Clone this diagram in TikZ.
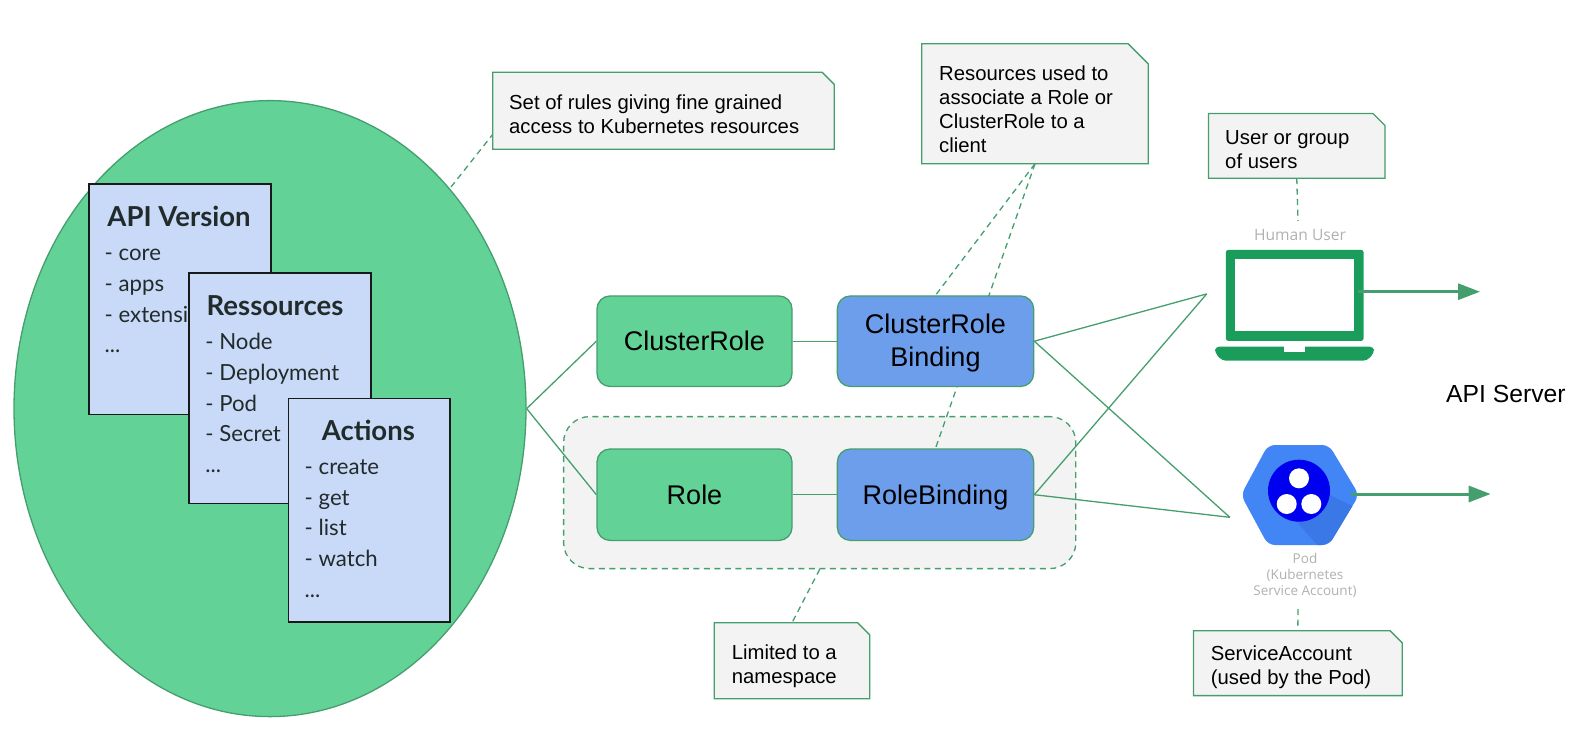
\documentclass[tikz,border=0pt]{standalone}
\usepackage{fontspec}
\setmainfont{Liberation Sans}
\newfontfamily\latofont{Lato}
\newfontfamily\opensansfont{Open Sans}
\usetikzlibrary{shapes.geometric,arrows.meta,calc}
\definecolor{edgegreen}{HTML}{459E6E}
\definecolor{fillgreen}{HTML}{63D297}
\definecolor{boxblue}{HTML}{6D9EEB}
\definecolor{paleblue}{HTML}{C9DAF8}
\definecolor{notegray}{HTML}{F3F3F3}
\definecolor{laptopgreen}{HTML}{1A9C5B}
\definecolor{hexblue}{HTML}{4285F4}
\definecolor{hexdark}{HTML}{3B78E7}
\definecolor{podblue}{HTML}{0000F0}
\definecolor{icontext}{HTML}{B0B0B0}
\definecolor{inktext}{HTML}{222B2B}
\pgfdeclarelayer{panel}
\pgfdeclarelayer{conn}
\pgfsetlayers{panel,conn,main}
\tikzset{
  x=1pt,y=-1pt,
  greenbox/.style={draw=edgegreen,line width=1.3pt,rounded corners=13pt,inner sep=0pt,align=center,
    font=\fontsize{27}{33}\selectfont},
  oneline/.style={text height=19.5pt,text depth=0pt},
  cardbox/.style={draw=black!90,line width=1.5pt,fill=paleblue,inner sep=0pt,anchor=north west},
  cardtitle/.style={anchor=base,inner sep=0pt,text=inktext,font=\latofont\bfseries\fontsize{27.5}{29}\selectfont},
  cardlist/.style={anchor=base west,inner sep=0pt,align=left,text=inktext,font=\latofont\fontsize{22.2}{30.6}\selectfont},
  link/.style={draw=edgegreen,line width=1.3pt},
  dashlink/.style={draw=edgegreen,line width=1.3pt,dash pattern=on 6pt off 4.5pt},
  notetext/.style={anchor=base west,inner sep=0pt,align=left,font=\fontsize{20.3}{24}\selectfont},
  icontxt/.style={inner sep=0pt,align=center,text=icontext,font=\opensansfont\fontsize{13.5}{16.2}\selectfont},
  flow/.style={draw=edgegreen,line width=3pt,-{Triangle[length=22pt,width=16pt]}}
}
% #1 name, #2 x1, #3 y1, #4 x2, #5 y2, #6 chamfer, #7 text x, #8 baseline of the last text line, #9 text
\newcommand{\notebox}[9]{%
  \node[inner sep=0pt,minimum width={#4-#2},minimum height={#5-#3}] (#1) at ({(#2+#4)/2},{(#3+#5)/2}) {};
  \fill[notegray,draw=edgegreen,line width=1.3pt] (#1.north west) -- ([xshift=-#6pt]#1.north east)
     -- ([yshift=-#6pt]#1.north east) -- (#1.south east) -- (#1.south west) -- cycle;
  \node[notetext] (#1t) at (#7,#8) {#9};
}
\begin{document}
\begin{tikzpicture}
\useasboundingbox (0,0) rectangle (1578,750);
% main ellipse
\node[ellipse,draw=edgegreen,line width=1.3pt,fill=fillgreen,inner sep=0pt,minimum width=512pt,minimum height=616pt] (rules) at (270,408.6) {};
% cards
\node[cardbox,minimum width=182pt,minimum height=230.4pt] (apicard) at (88.3,183.3) {};
\node[cardtitle] (apititle) at (179,226.5) {API Version};
\node[cardlist] (apilist) at (104.5,352.6) {- core\\- apps\\- extensions\\...};
\node[cardbox,minimum width=182pt,minimum height=230.4pt] (rescard) at (188.3,272.3) {};
\node[cardtitle] (restitle) at (275,315.8) {Ressources};
\node[cardlist] (reslist) at (205.2,472.2) {- Node\\- Deployment\\- Pod\\- Secret\\...};
\node[cardbox,minimum width=161.3pt,minimum height=223.3pt] (actcard) at (287.7,397.7) {};
\node[cardtitle] (acttitle) at (368.3,440.3) {Actions};
\node[cardlist] (actlist) at (304.5,597) {- create\\- get\\- list\\- watch\\...};
% role boxes
\node[greenbox,oneline,fill=fillgreen,minimum width=195pt,minimum height=90.5pt] (cr) at (694.5,341.2) {ClusterRole};
\node[greenbox,fill=boxblue,minimum width=196.3pt,minimum height=90.5pt] (crb) at (935.5,341.2) {\rule{0pt}{23pt}ClusterRole\\Binding};
\node[greenbox,oneline,fill=fillgreen,minimum width=195pt,minimum height=91.4pt] (role) at (694.5,494.7) {Role};
\node[greenbox,oneline,fill=boxblue,minimum width=196.3pt,minimum height=91.4pt] (rb) at (935.5,494.7) {RoleBinding};
% notes
\notebox{noteA}{493}{72.5}{834}{149}{12}{509}{133}{Set of rules giving fine grained\\access to Kubernetes resources}
\notebox{noteB}{922}{44}{1148}{163.5}{20}{939}{152.7}{Resources used to\\associate a Role or\\ClusterRole to a\\client}
\notebox{noteC}{1208.7}{113.7}{1384.8}{178}{12}{1225}{168}{User or group\\of users}
\notebox{noteD}{714.5}{623}{869.5}{698.5}{12}{731.6}{683}{Limited to a\\namespace}
\notebox{noteE}{1193.6}{631}{1402}{695.4}{12}{1210.7}{684}{ServiceAccount\\(used by the Pod)}
% laptop
\node[inner sep=0pt,minimum width=137.3pt,minimum height=90.7pt] (laptop) at (1294.7,295.4) {};
\fill[laptopgreen,rounded corners=2.5pt] (laptop.north west) rectangle (laptop.south east);
\fill[white] (1235,259.3) rectangle (1354.3,331.3);
\fill[laptopgreen,rounded corners=4pt] (1215,346.7) -- (1374,346.7) -- (1374,353) -- (1367,360.7) -- (1222,360.7) -- (1215,353) -- cycle;
\fill[white] (1284.3,346) rectangle (1304.7,352);
\node[icontxt,font=\opensansfont\fontsize{15.6}{18}\selectfont] (humanlabel) at (1300,235) {Human User};
% pod
\node[inner sep=0pt,minimum width=112.7pt,minimum height=100pt] (pod) at (1300.4,495) {};
\begin{scope}
\fill[hexblue,rounded corners=7pt] (1241,495) -- (1268,445) -- (1329,445) -- (1359,495) -- (1329,545) -- (1268,545) -- cycle;
\clip[rounded corners=7pt] (1241,495) -- (1268,445) -- (1329,445) -- (1359,495) -- (1329,545) -- (1268,545) -- cycle;
\fill[hexdark] (1330,495) -- (1360,510) -- (1325,548) -- (1320,548) -- (1295,520) -- cycle;
\end{scope}
\fill[podblue] (1299,490.7) circle (31);
\fill[white] (1299,478.3) circle (10) (1286.7,504) circle (10) (1311.3,504) circle (10);
\node[icontxt] (podlabel) at (1305,575.5) {Pod\\(Kubernetes\\Service Account)};
% API server
\node[inner sep=0pt,anchor=base west,font=\fontsize{24.7}{29}\selectfont] (api) at (1446,402) {API Server};
\coordinate (laptopout) at (1358.3,291.7);
\coordinate (laptoptip) at (1480,291.7);
\coordinate (podout) at (1350.7,494);
\coordinate (podtip) at (1490.7,494);
\coordinate (userpoint) at (1206.7,293.9);
\coordinate (podpoint) at (1229.8,517.3);
\draw[flow] (laptopout) -- (laptoptip);
\draw[flow] (podout) -- (podtip);
\coordinate (ctop) at (1298,221);
\coordinate (cbot) at (1298,609);
\coordinate (rulesnote) at (493,134);
\coordinate (rulesedge) at (451,187);
% layers
\begin{pgfonlayer}{panel}
\node[draw=edgegreen,line width=1.3pt,dash pattern=on 6pt off 4.5pt,fill=notegray,rounded corners=26pt,inner sep=0pt,minimum width=512.2pt,minimum height=152pt] (ns) at (819.7,492.6) {};
\end{pgfonlayer}
\begin{pgfonlayer}{conn}
\draw[link] (rules.east) -- (cr.west);
\draw[link] (rules.east) -- (role.west);
\draw[link] (cr) -- (crb);
\draw[link] (role) -- (rb);
\draw[link] (crb.east) -- (userpoint);
\draw[link] (crb.east) -- (podpoint);
\draw[link] (rb.east) -- (userpoint);
\draw[link] (rb.east) -- (podpoint);
\draw[dashlink] (noteB.south) -- (crb.north);
\draw[dashlink] (noteB.south) -- (rb.north);
\draw[dashlink] (rulesedge) -- (rulesnote);
\draw[dashlink] (noteC.south) -- (ctop);
\draw[dashlink] (ns.south) -- (noteD.north);
\draw[dashlink] (cbot) -- (noteE.north);
\end{pgfonlayer}
\end{tikzpicture}
\end{document}
